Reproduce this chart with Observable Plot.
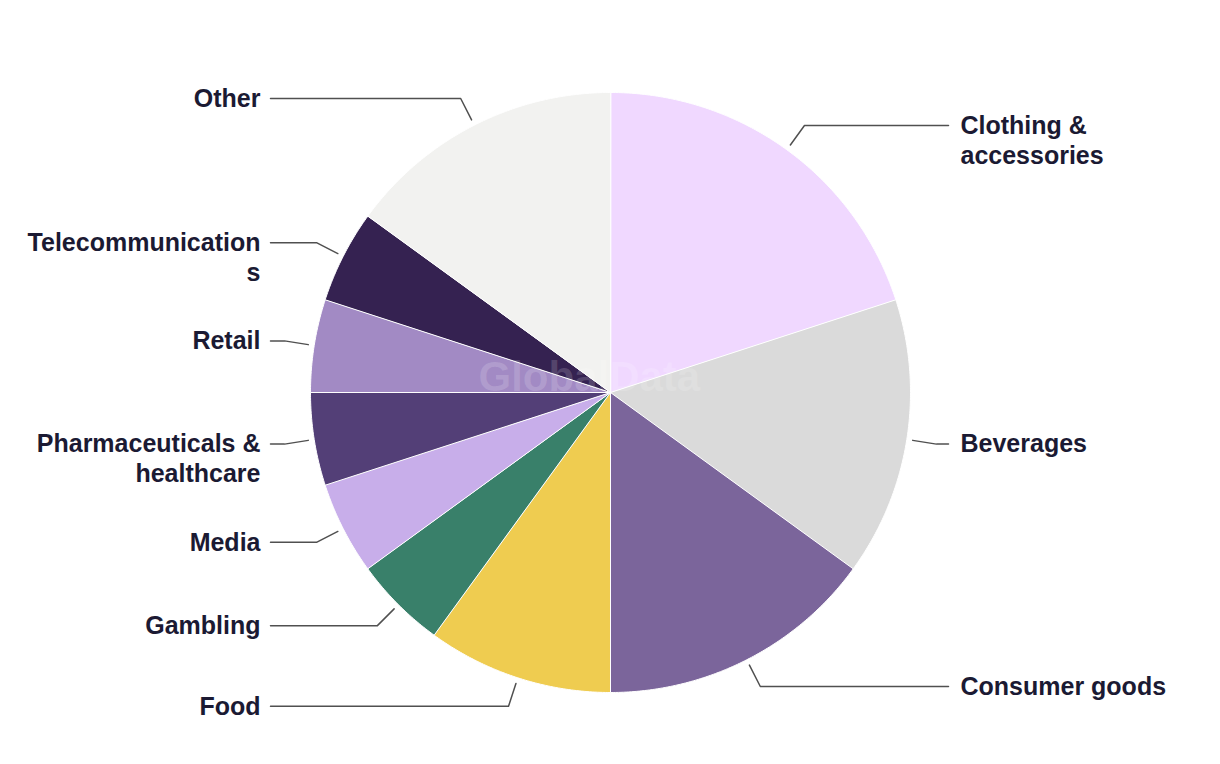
<!DOCTYPE html>
<html>
<head>
<meta charset="utf-8">
<script src="https://cdn.jsdelivr.net/npm/d3@7"></script>
<script src="https://cdn.jsdelivr.net/npm/@observablehq/plot@0.6"></script>
<style>
  html, body { margin: 0; padding: 0; background: #ffffff; }
  #chart { width: 1220px; height: 764px; }
</style>
</head>
<body>
<div id="chart"></div>
<script>
// ---- Data ----
const categories = ["Clothing & accessories", "Beverages", "Consumer goods", "Food", "Gambling", "Media", "Pharmaceuticals & healthcare", "Retail", "Telecommunications", "Other"];
const shares = [20, 15, 15, 10, 5, 5, 5, 5, 5, 15];
const labelLines = [["Clothing &", "accessories"], ["Beverages"], ["Consumer goods"], ["Food"], ["Gambling"], ["Media"], ["Pharmaceuticals &", "healthcare"], ["Retail"], ["Telecommunication", "s"], ["Other"]];
const colors = ["#f0d8ff", "#dadada", "#7b659b", "#efcc50", "#39806a", "#c8aeea", "#533f77", "#a28ac4", "#352251", "#f2f2f0"];
const watermark = "GlobalData";

// ---- Layout ----
const W = 1220, H = 764;
const cx = 610, cy = 392, R = 300; // pixels
const total = d3.sum(shares);

// build slices (angle from 12 o'clock, clockwise)
let acc = 0;
const slices = categories.map((c, i) => {
  const a0 = acc / total * 2 * Math.PI;
  acc += shares[i];
  const a1 = acc / total * 2 * Math.PI;
  return {cat: c, a0, a1, mid: (a0 + a1) / 2, lines: labelLines[i]};
});

const polyPts = [];
for (const s of slices) {
  polyPts.push({cat: s.cat, x: 0, y: 0});
  const n = Math.max(2, Math.ceil((s.a1 - s.a0) / (Math.PI / 360)));
  for (let k = 0; k <= n; k++) {
    const a = s.a0 + (s.a1 - s.a0) * k / n;
    polyPts.push({cat: s.cat, x: Math.sin(a), y: Math.cos(a)});
  }
}

const leftEnd = (270 - cx) / R, rightEnd = (948 - cx) / R;
const leftText = (260 - cx) / R, rightText = (960 - cx) / R;
const leaderPts = [];
const labels = [];
for (const s of slices) {
  const sx = 1.02 * Math.sin(s.mid), sy = 1.02 * Math.cos(s.mid);
  const ex = 1.1 * Math.sin(s.mid), ey = 1.1 * Math.cos(s.mid);
  const right = Math.sin(s.mid) > 0;
  leaderPts.push({cat: s.cat, x: sx, y: sy});
  leaderPts.push({cat: s.cat, x: ex, y: ey});
  leaderPts.push({cat: s.cat, x: right ? rightEnd : leftEnd, y: ey});
  labels.push({text: s.lines.join("\n"), x: right ? rightText : leftText, y: ey, anchor: right ? "start" : "end"});
}

const chart = Plot.plot({
  width: W,
  height: H,
  margin: 0,
  x: {domain: [-cx / R, (W - cx) / R], axis: null},
  y: {domain: [(cy - H) / R, cy / R], axis: null},
  color: {domain: categories, range: colors},
  style: {fontFamily: "'Liberation Sans', Arial, sans-serif", background: "#ffffff"},
  marks: [
    Plot.line(polyPts, {x: "x", y: "y", z: "cat", fill: "cat", stroke: "#ffffff", strokeWidth: 1, curve: "linear-closed"}),
    Plot.text([watermark], {x: [(478 - cx) / R], y: [0.05], text: d => d, textAnchor: "start", fill: "#ffffff", fillOpacity: 0.16, fontSize: 42, fontWeight: "bold"}),
    Plot.line(leaderPts, {x: "x", y: "y", z: "cat", stroke: "#505050", strokeWidth: 1.5}),
    Plot.text(labels.filter(d => d.anchor === "start"), {x: "x", y: "y", text: "text", textAnchor: "start", lineAnchor: "top", dy: -13, lineHeight: 1.2, fontSize: 25, fontWeight: "bold", fill: "#1b1a33"}),
    Plot.text(labels.filter(d => d.anchor === "end"), {x: "x", y: "y", text: "text", textAnchor: "end", lineAnchor: "top", dy: -13, lineHeight: 1.2, fontSize: 25, fontWeight: "bold", fill: "#1b1a33"})
  ]
});
document.getElementById("chart").appendChild(chart);
</script>
</body>
</html>
